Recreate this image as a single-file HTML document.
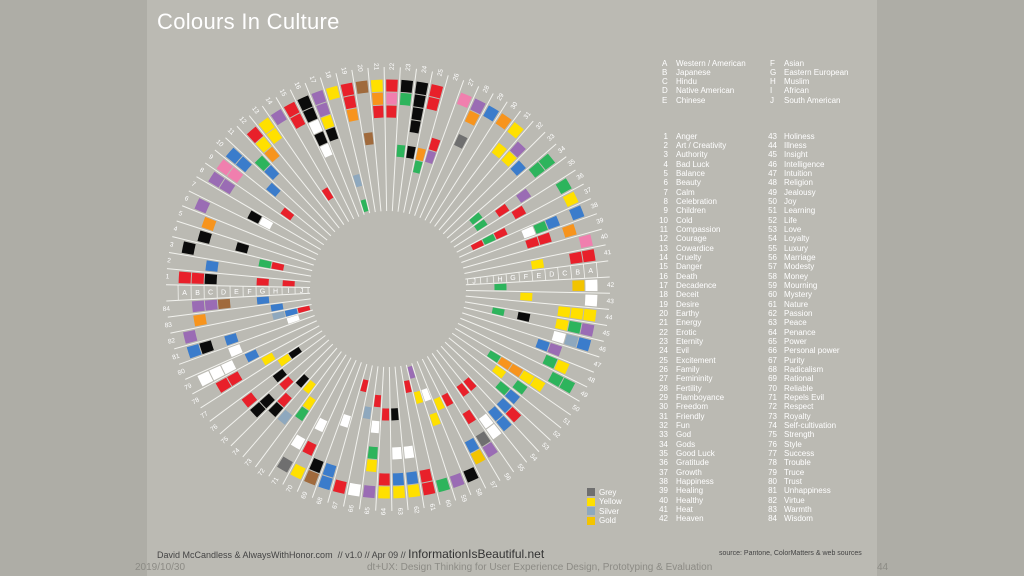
<!DOCTYPE html>
<html><head><meta charset="utf-8">
<style>
html,body{margin:0;padding:0;}
body{width:1024px;height:576px;background:#aeada6;position:relative;overflow:hidden;font-family:"Liberation Sans",sans-serif;}
#slide{position:absolute;left:147px;top:0;width:730px;height:576px;background:#bbbab3;}
.t{position:absolute;color:#fff;font-size:8px;white-space:nowrap;line-height:9px;}
#title{position:absolute;left:157px;top:9px;font-size:22px;color:#fff;letter-spacing:0.3px;}
.foot{position:absolute;font-size:10px;color:#8c8b85;top:562px;white-space:nowrap;}
</style></head><body>
<div id="slide"></div>
<div id="title">Colours In Culture</div>
<svg id="wheel" width="1024" height="576" style="position:absolute;left:0;top:0"></svg>
<div id="legends"></div>
<div style="position:absolute;left:157px;top:547px;font-size:9px;color:#444;white-space:nowrap">David McCandless &amp; AlwaysWithHonor.com &nbsp;// v1.0 // Apr 09 // <span style="font-size:12px;color:#333">InformationIsBeautiful.net</span></div>
<div style="position:absolute;left:719px;top:550px;font-size:7px;color:#444;white-space:nowrap">source: Pantone, ColorMatters &amp; web sources</div>
<div class="foot" style="left:135px">2019/10/30</div>
<div class="foot" style="left:367px">dt+UX: Design Thinking for User Experience Design, Prototyping &amp; Evaluation</div>
<div class="foot" style="left:877px">44</div>
<script>
const cultures=["A","B","C","D","E","F","G","H","I","J"];
const cultureNames=["Western / American","Japanese","Hindu","Native American","Chinese","Asian","Eastern European","Muslim","African","South American"];
const meanings=["Anger","Art / Creativity","Authority","Bad Luck","Balance","Beauty","Calm","Celebration","Children","Cold","Compassion","Courage","Cowardice","Cruelty","Danger","Death","Decadence","Deceit","Desire","Earthy","Energy","Erotic","Eternity","Evil","Excitement","Family","Femininity","Fertility","Flamboyance","Freedom","Friendly","Fun","God","Gods","Good Luck","Gratitude","Growth","Happiness","Healing","Healthy","Heat","Heaven","Holiness","Illness","Insight","Intelligence","Intuition","Religion","Jealousy","Joy","Learning","Life","Love","Loyalty","Luxury","Marriage","Modesty","Money","Mourning","Mystery","Nature","Passion","Peace","Penance","Power","Personal power","Purity","Radicalism","Rational","Reliable","Repels Evil","Respect","Royalty","Self-cultivation","Strength","Style","Success","Trouble","Truce","Trust","Unhappiness","Virtue","Warmth","Wisdom"];
// one string per meaning, chars A..J: colour code or '.'
const cells=[
"rrk...r.r.","..b.......","k.....gr..",".k..k.....",".o........","u.........","....kw....","uu........","pp....r...","bb..b.....",
"..gb......","ryo.......","yy........","u......r..","rr........","kkwkw.....","uuyk......","y......s.g","rro.......","n...n.....",
"yor.......","rpr.......","kg...g....","kkkk.k....","rr...og...","....ru....","p.........","uo.e......","b.........","o.........",
"y.y.......",".uy.......","..b.......","gg.....g..","...u.r.g..","g...r.....","y.....rgr.","b.cgw.....",".o.rr.....","p.........",
"rr..y.....","wd.....g..","w....y....","yyy.......","ugy..k.g..","bsw.......","..ub......",".yg.......","gg........","..yyoog...",
"...g.y....","...bg.....","..rb......","..bb..r...","..ww..r...",".ue.r.....",".db...r...","k.....y...","u....y.w..","g......y.u",
"rr......r.","yb.w......","yb.w..k...","yr....r...","u.yg.w.r..","w.....s...","r.......r.","bb...w....","nk........","y.r.w.....",
"e.w.......","....gy....","...s..y...","...kr.k...","..kk.r....","..r..k....","......yk..",".rr..y....","www.b.....","...w......",
"bk.b....w.","u......sbr",".o.....b..",".uun..b..."];
const palette={r:"#e8202a",k:"#0b0b0b",w:"#ffffff",y:"#ffe000",o:"#f7941d",p:"#f07fae",u:"#9a6cb4",b:"#3b7ccb",g:"#2db45c",n:"#a06a3c",s:"#8ea8be",e:"#6f6f6f",d:"#f3c400",c:"#3b7ccb"};
const NS="http://www.w3.org/2000/svg";
const svg=document.getElementById('wheel');
const cx=388, cy=289, R=210, ring=13, rIn=R-ring*10;
const slots=86, D=360/slots, theta0=181;
function slotAngle(i){return theta0 - i*D;}           // degrees
function itemSlot(k){return k<=41?k:k+1;}             // k = 1..84
function pt(r,a){const t=a*Math.PI/180;return [cx+r*Math.cos(t), cy-r*Math.sin(t)];}
function sector(r1,r2,a1,a2){
  const p1=pt(r2,a1),p2=pt(r2,a2),p3=pt(r1,a2),p4=pt(r1,a1);
  return `M${p1[0]},${p1[1]}A${r2},${r2} 0 0 1 ${p2[0]},${p2[1]}L${p3[0]},${p3[1]}A${r1},${r1} 0 0 0 ${p4[0]},${p4[1]}Z`;
}
// spokes (slot boundaries)
for(let i=0;i<slots;i++){
  const a=slotAngle(i)+D/2;
  const p=pt(rIn-2,a),q=pt(R+12,a);
  const l=document.createElementNS(NS,'line');
  
  
  l.setAttribute('x1',p[0]);l.setAttribute('y1',p[1]);l.setAttribute('x2',q[0]);l.setAttribute('y2',q[1]);
  l.setAttribute('stroke','#f2f2ee');l.setAttribute('stroke-width','1');
  svg.appendChild(l);
}
// cells
for(let k=1;k<=84;k++){
  const s=cells[k-1], a=slotAngle(itemSlot(k));
  for(let j=0;j<10;j++){
    const c=s[j]; if(!c||c==='.') continue;
    const path=document.createElementNS(NS,'path');
    
    
    path.setAttribute('d',sector(R-ring*(j+1)+0.5,R-ring*j-0.5,a+D/2-0.5,a-D/2+0.5));
    path.setAttribute('fill',palette[c]);
    svg.appendChild(path);
  }
  // number label
  const lp=pt(R+9,a);
  const t=document.createElementNS(NS,'text');
  
  
  t.setAttribute('x',lp[0]);t.setAttribute('y',lp[1]);
  t.setAttribute('font-size','6.5');t.setAttribute('fill','#fff');
  t.setAttribute('text-anchor','start');t.setAttribute('dominant-baseline','middle');
  let rot=-a; if(Math.cos(a*Math.PI/180)<0) {rot=180-a; t.setAttribute('text-anchor','end');}
  t.setAttribute('transform',`rotate(${rot} ${lp[0]} ${lp[1]})`);
  t.setAttribute('font-family','Liberation Sans, sans-serif');
  t.textContent=k;
  svg.appendChild(t);
}
// culture label slots
[0,42].forEach(si=>{
  const a=slotAngle(si);
  for(let j=0;j<=10;j++){
    const r=R-ring*j;
    const p1=pt(r,a+D/2),p2=pt(r,a-D/2);
    const l=document.createElementNS(NS,'line');
    
    
    l.setAttribute('x1',p1[0]);l.setAttribute('y1',p1[1]);l.setAttribute('x2',p2[0]);l.setAttribute('y2',p2[1]);
    l.setAttribute('stroke','#f2f2ee');l.setAttribute('stroke-width','0.8');
    svg.appendChild(l);
  }
  for(let j=0;j<10;j++){
    const p=pt(R-ring*(j+0.5),a);
    const t=document.createElementNS(NS,'text');
    
    
    t.setAttribute('x',p[0]);t.setAttribute('y',p[1]+2.5);
    t.setAttribute('font-size','7');t.setAttribute('fill','#fff');t.setAttribute('text-anchor','middle');
    t.setAttribute('font-family','Liberation Sans, sans-serif');
    t.textContent=cultures[j];
    svg.appendChild(t);
  }
});
// legends
const lg=document.getElementById('legends');
function addText(x,y,txt,name,align){
  const d=document.createElement('div');
  d.className='t';
  
  
  d.style.top=(y-4.5)+'px';
  if(align==='right'){d.style.left=(x-20)+'px';d.style.width='20px';d.style.textAlign='right';}
  else d.style.left=x+'px';
  d.textContent=txt;
  lg.appendChild(d);
}
for(let i=0;i<10;i++){
  const col=i<5?0:1, row=i%5, y=63+row*9.3;
  addText(col?770:662,y,cultures[i],'culture-key-letter');
  addText(col?784:676,y,cultureNames[i],'culture-key-name');
}
for(let i=0;i<84;i++){
  const col=i<42?0:1,row=i%42,y=136+row*9.34;
  addText(col?777:668,y,String(i+1),'meaning-key-number','right');
  addText(col?784:676,y,meanings[i],'meaning-key-name');
}
const swatchNames=["Grey","Yellow","Silver","Gold"];
const swatchCols=["#6f6f6f","#ffe000","#8ea8be","#f3c400"];
for(let i=0;i<4;i++){
  const y=492+i*9.5;
  const sq=document.createElement('div');
  
  
  sq.style.cssText=`position:absolute;left:587px;top:${y-4}px;width:8px;height:8px;background:${swatchCols[i]}`;
  lg.appendChild(sq);
  addText(599,y,swatchNames[i],'swatch-label');
}
</script>
</body></html>
